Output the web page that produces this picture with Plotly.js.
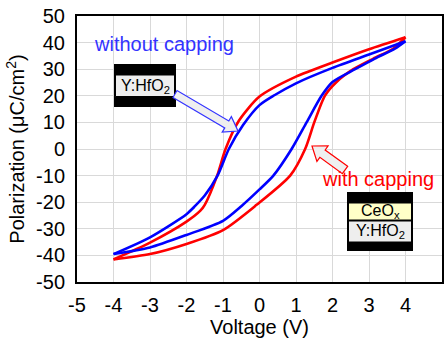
<!DOCTYPE html>
<html>
<head>
<meta charset="utf-8">
<script src="https://cdn.plot.ly/plotly-3.0.1.min.js"></script>
<style>html,body{margin:0;padding:0;background:#fff;}#chart{width:446px;height:341px;}</style>
</head>
<body>
<div id="chart"></div>
<script>
// ---- data ----
const blueUpV = [-4, -3, -2, -1, -0.49, 0, 0.38, 0.88, 1.29, 1.7, 2.0, 2.62, 3.16, 3.71, 4.0];
const blueUpP = [-39.5, -37, -32.3, -27, -21.4, -15.2, -10, 0, 10, 20, 25.2, 30, 34, 37.7, 40.5];
const blueDnV = [4.0, 3, 2, 1, 0.42, 0, -0.45, -0.84, -1.15, -1.5, -1.77, -2, -3, -4];
const blueDnP = [40.5, 35.5, 30.5, 24.7, 20.3, 16.5, 9, 0, -10, -17.5, -21.5, -24.5, -33.2, -39.5];
const redUpV = [-4, -3, -2, -1, -0.08, 0.84, 1.25, 1.5, 1.79, 2.11, 2.57, 3.12, 3.66, 4.0];
const redUpP = [-41.5, -39.5, -35.7, -30.5, -21, -10, 0, 10, 20, 25.2, 30, 34, 37.7, 42];
const redDnV = [4.0, 3, 2, 1, 0, -0.57, -0.93, -1.16, -1.5, -1.62, -2, -3, -4];
const redDnP = [42, 37.5, 32.5, 27.2, 19.7, 10.5, 0, -10, -21, -23.2, -27.3, -35.2, -41.5];

const xTicks = [-5, -4, -3, -2, -1, 0, 1, 2, 3, 4, 5];
const yTicks = [-50, -40, -30, -20, -10, 0, 10, 20, 30, 40, 50];

// ---- layout geometry ----
const W = 446, H = 341;
const M = {l: 77, r: 4, t: 16, b: 59};
const XR = [-5, 5], YR = [-50, 50];
const pw = W - M.l - M.r, ph = H - M.t - M.b;
const px2x = v => XR[0] + (v - M.l) / pw * (XR[1] - XR[0]);
const py2y = v => YR[1] - (v - M.t) / ph * (YR[1] - YR[0]);

function rectShape(x0, y0, x1, y1, fill, lineColor, lw) {
  return {type: 'rect', xref: 'x', yref: 'y', layer: 'above',
    x0: px2x(x0), x1: px2x(x1), y0: py2y(y0), y1: py2y(y1),
    fillcolor: fill, line: {color: lineColor, width: lw}};
}
function blockArrow(tail, tip, sw, hw, hl, fill, color) {
  const dx = tip[0] - tail[0], dy = tip[1] - tail[1];
  const L = Math.hypot(dx, dy), ux = dx / L, uy = dy / L, nx = -uy, ny = ux;
  const bx = tip[0] - ux * hl, by = tip[1] - uy * hl;
  const pts = [
    [tail[0] + nx * sw / 2, tail[1] + ny * sw / 2],
    [bx + nx * sw / 2, by + ny * sw / 2],
    [bx + nx * hw / 2, by + ny * hw / 2],
    [tip[0], tip[1]],
    [bx - nx * hw / 2, by - ny * hw / 2],
    [bx - nx * sw / 2, by - ny * sw / 2],
    [tail[0] - nx * sw / 2, tail[1] - ny * sw / 2]
  ];
  const path = pts.map((p, i) => (i ? 'L' : 'M') + px2x(p[0]).toFixed(4) + ',' + py2y(p[1]).toFixed(4)).join(' ') + ' Z';
  return {type: 'path', xref: 'x', yref: 'y', layer: 'above', path: path,
    fillcolor: fill, line: {color: color, width: 1.2}};
}
function label(text, cx, cy, size, color, xanchor) {
  return {text: text, x: px2x(cx), y: py2y(cy), xref: 'x', yref: 'y',
    xanchor: xanchor || 'center', yanchor: 'middle', showarrow: false,
    font: {family: 'Arial, Liberation Sans, sans-serif', size: size, color: color}};
}

const mk = (x, y, c) => ({x: x, y: y, type: 'scatter', mode: 'lines', hoverinfo: 'skip',
  line: {color: c, width: 2.6, shape: 'spline', smoothing: 0.7}});

const traces = [
  mk(redUpV, redUpP, '#ff0000'),
  mk(redDnV, redDnP, '#ff0000'),
  mk(blueUpV, blueUpP, '#0000ff'),
  mk(blueDnV, blueDnP, '#0000ff')
];

const shapes = [
  // inset 1 : Y:HfO2
  rectShape(114, 64, 176, 107, '#000000', '#000000', 0),
  rectShape(115.5, 75, 174.5, 96.5, '#eeeeee', '#000000', 1),
  // inset 2 : CeOx / Y:HfO2
  rectShape(347, 192, 413, 251, '#000000', '#000000', 0),
  rectShape(348.5, 203, 411.5, 220, '#ffffc8', '#000000', 1),
  rectShape(348.5, 221, 411.5, 242, '#eeeeee', '#000000', 1),
  // arrows
  blockArrow([175, 94], [238, 131], 8, 18, 13, '#efefef', '#3333ff'),
  blockArrow([345, 170], [312, 146], 9, 19, 13, '#efefef', '#ff0000')
];

const font = 'Arial, Liberation Sans, sans-serif';
const annotations = [
  label('without capping', 92, 44, 20, '#3333ff', 'left'),
  label('with capping', 320, 179, 20, '#ff0000', 'left'),
  label('Y:HfO<sub>2</sub>', 145, 86, 16, '#000000'),
  label('CeO<sub>x</sub>', 380, 211.5, 16, '#000000'),
  label('Y:HfO<sub>2</sub>', 380, 231.5, 16, '#000000')
];

const layout = {
  width: W, height: H,
  margin: M,
  paper_bgcolor: '#ffffff', plot_bgcolor: '#ffffff',
  showlegend: false,
  font: {family: font, size: 20, color: '#000'},
  xaxis: {range: XR, tickvals: xTicks, ticktext: xTicks.map(String),
    showgrid: true, gridcolor: '#d9d9d9', gridwidth: 1, zeroline: false,
    showline: true, mirror: true, linecolor: '#000', linewidth: 2,
    ticks: 'outside', ticklen: 4, tickcolor: 'rgba(0,0,0,0)',
    tickfont: {family: font, size: 20, color: '#000'},
    title: {text: 'Voltage (V)', font: {family: font, size: 20, color: '#000'}, standoff: 4}},
  yaxis: {range: YR, tickvals: yTicks, ticktext: yTicks.map(String),
    showgrid: true, gridcolor: '#d9d9d9', gridwidth: 1, zeroline: false,
    showline: true, mirror: true, linecolor: '#000', linewidth: 2,
    ticks: 'outside', ticklen: 6, tickcolor: 'rgba(0,0,0,0)',
    tickfont: {family: font, size: 20, color: '#000'},
    title: {text: 'Polarization (\u03bcC/cm<sup>2</sup>)', font: {family: font, size: 20, color: '#000'}, standoff: 6}},
  shapes: shapes,
  annotations: annotations
};

Plotly.newPlot('chart', traces, layout, {displayModeBar: false, staticPlot: true});
</script>
</body>
</html>
